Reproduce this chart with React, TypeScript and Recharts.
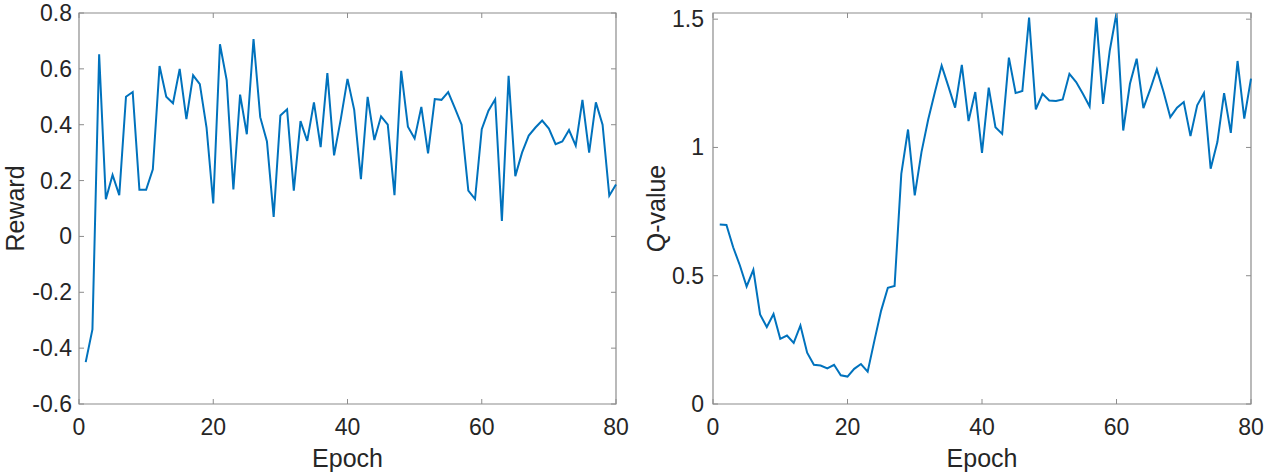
import { LineChart, Line, XAxis, YAxis, ReferenceArea } from 'recharts';

// epochs 1..80 (category index)
const epochs = Array.from({ length: 80 }, (_, i) => i + 1);

const rewardValues = [
  -0.45, -0.333, 0.652, 0.133, 0.22, 0.148, 0.5, 0.517, 0.167, 0.167,
  0.24, 0.61, 0.5, 0.477, 0.6, 0.42, 0.577, 0.545, 0.39, 0.118,
  0.688, 0.56, 0.168, 0.508, 0.366, 0.707, 0.427, 0.34, 0.07, 0.433,
  0.455, 0.164, 0.413, 0.342, 0.48, 0.32, 0.585, 0.29, 0.42, 0.564,
  0.453, 0.205, 0.5, 0.345, 0.43, 0.4, 0.148, 0.593, 0.393, 0.351,
  0.464, 0.297, 0.492, 0.489, 0.517, 0.459, 0.4, 0.164, 0.134, 0.384,
  0.45, 0.491, 0.055, 0.575, 0.216, 0.3, 0.361, 0.39, 0.415, 0.386,
  0.33, 0.34, 0.381, 0.325, 0.489, 0.3, 0.48, 0.4, 0.146, 0.186,
];

const qValues = [
  0.7, 0.698, 0.611, 0.54, 0.458, 0.523, 0.349, 0.3, 0.351, 0.254,
  0.267, 0.238, 0.306, 0.2, 0.153, 0.15, 0.139, 0.153, 0.112, 0.107,
  0.137, 0.156, 0.126, 0.247, 0.364, 0.453, 0.46, 0.897, 1.07, 0.813,
  0.982, 1.109, 1.216, 1.319, 1.238, 1.155, 1.322, 1.103, 1.216, 0.979,
  1.233, 1.079, 1.053, 1.35, 1.212, 1.22, 1.506, 1.148, 1.209, 1.183,
  1.181, 1.187, 1.287, 1.255, 1.209, 1.16, 1.506, 1.17, 1.378, 1.524,
  1.066, 1.248, 1.346, 1.153, 1.225, 1.304, 1.216, 1.118, 1.155, 1.177,
  1.044, 1.164, 1.212, 0.917, 1.021, 1.212, 1.057, 1.337, 1.112, 1.268,
];

const xTicks = [0, 20, 40, 60, 80];
const rewardTicks = [-0.6, -0.4, -0.2, 0, 0.2, 0.4, 0.6, 0.8];
const qTicks = [0, 0.5, 1, 1.5];

const rewardData = epochs.map((e, i) => ({ epoch: e, value: rewardValues[i] }));
const qData = epochs.map((e, i) => ({ epoch: e, value: qValues[i] }));

const BOX = '#8c8c8c';
const TEXT = '#262626';
const FONT = '"Liberation Sans", Arial, Helvetica, sans-serif';
const H = 476;
const TOP = 13;
const XAXIS_H = 72;
const PLOT_H = H - TOP - XAXIS_H;

const fmt = (v: number) => String(Math.round(v * 10) / 10);

const makeYTick = (plotW: number, gap: number) => (props: any) => {
  const { x, y, payload } = props;
  return (
    <g>
      <line x1={x} x2={x + 5} y1={y} y2={y} stroke={BOX} />
      <line x1={x + plotW - 5} x2={x + plotW} y1={y} y2={y} stroke={BOX} />
      <text x={x - gap} y={y + 8} textAnchor="end" fontSize={23} fill={TEXT} fontFamily={FONT}>
        {fmt(payload.value)}
      </text>
    </g>
  );
};

const makeXTick = () => (props: any) => {
  const { x, y, payload } = props;
  return (
    <g>
      <line x1={x} x2={x} y1={y - 5} y2={y} stroke={BOX} />
      <line x1={x} x2={x} y1={y - PLOT_H} y2={y - PLOT_H + 5} stroke={BOX} />
      <text x={x} y={y + 31} textAnchor="middle" fontSize={23} fill={TEXT} fontFamily={FONT}>
        {fmt(payload.value)}
      </text>
    </g>
  );
};

type PanelProps = {
  data: { epoch: number; value: number }[];
  yDomain: [number, number];
  yTicks: number[];
  yLabel: string;
  left: number;
  width: number;
  yAxisWidth: number;
  marginRight: number;
  labelX: number;
  gap: number;
};

const Panel = ({ data, yDomain, yTicks, yLabel, left, width, yAxisWidth, marginRight, labelX, gap }: PanelProps) => {
  const plotW = width - yAxisWidth - marginRight;
  const plotCx = yAxisWidth + plotW / 2;
  const plotCy = TOP + PLOT_H / 2;
  return (
    <div style={{ position: 'absolute', left, top: 0 }}>
      <LineChart width={width} height={H} data={data} margin={{ top: TOP, right: marginRight, bottom: 0, left: 0 }}>
        <ReferenceArea x1={0} x2={80} y1={yDomain[0]} y2={yDomain[1]} fill="none" stroke={BOX} strokeWidth={1.2} />
        <XAxis
          dataKey="epoch"
          type="number"
          domain={[0, 80]}
          ticks={xTicks}
          interval={0}
          height={XAXIS_H}
          axisLine={false}
          tickLine={false}
          tickSize={0}
          tickMargin={0}
          tick={makeXTick()}
          label={{
            content: () => (
              <text x={plotCx} y={467} textAnchor="middle" fontSize={25} fill={TEXT} fontFamily={FONT}>
                Epoch
              </text>
            ),
          }}
        />
        <YAxis
          type="number"
          domain={yDomain}
          ticks={yTicks}
          interval={0}
          width={yAxisWidth}
          allowDataOverflow
          axisLine={false}
          tickLine={false}
          tickSize={0}
          tickMargin={0}
          tick={makeYTick(plotW, gap)}
          label={{
            content: () => (
              <text
                x={labelX}
                y={plotCy}
                transform={`rotate(-90 ${labelX} ${plotCy})`}
                textAnchor="middle"
                fontSize={25}
                fill={TEXT}
                fontFamily={FONT}
              >
                {yLabel}
              </text>
            ),
          }}
        />
        <Line type="linear" dataKey="value" stroke="#0072BD" strokeWidth={2} dot={false} isAnimationActive={false} />
      </LineChart>
    </div>
  );
};

export default function App() {
  return (
    <div style={{ position: 'absolute', left: 0, top: 0, width: 1268, height: 476, background: '#fff' }}>
      <Panel
        data={rewardData}
        yDomain={[-0.6, 0.8]}
        yTicks={rewardTicks}
        yLabel="Reward"
        left={0}
        width={640}
        yAxisWidth={79}
        marginRight={24}
        labelX={24}
        gap={7}
      />
      <Panel
        data={qData}
        yDomain={[0, 1.524]}
        yTicks={qTicks}
        yLabel="Q-value"
        left={640}
        width={628}
        yAxisWidth={73}
        marginRight={17}
        labelX={25}
        gap={9}
      />
    </div>
  );
}
